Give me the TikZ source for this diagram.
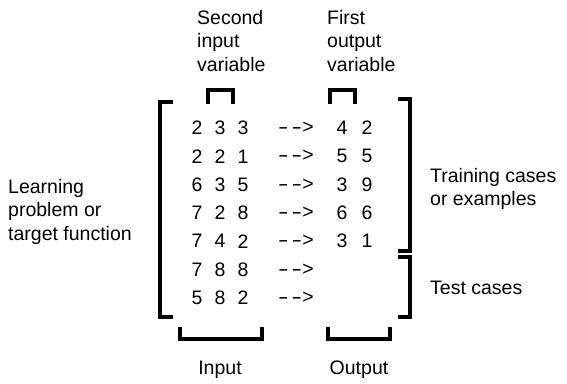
\documentclass[tikz,border=0pt]{standalone}
\usepackage{fontspec}
\setmainfont{Liberation Sans}
\usetikzlibrary{positioning}
\newcommand{\dasharrow}{\scalebox{1.6}[1]{-}\kern3pt\scalebox{1.6}[1]{-}\kern0.5pt>}

\begin{document}
\begin{tikzpicture}[x=1pt,y=-1pt,
  num/.style={inner sep=0pt,font=\fontsize{19.5}{23}\selectfont},
  lbl/.style={inner sep=0pt,align=left,font=\fontsize{19.5}{23.5}\selectfont},
  brk/.style={line width=4pt,line join=miter}]
  \useasboundingbox (0,0) rectangle (567,383);

  % input rows and arrows
  \foreach \a/\b/\c [count=\r] in {2/3/3,2/2/1,6/3/5,7/2/8,7/4/2,7/8/8,5/8/2}{
    \node (a\r) [num] at (197,{128+28.3*(\r-1)}) {\a};
    \node (b\r) [num] at (220,{128+28.3*(\r-1)}) {\b};
    \node (c\r) [num] at (243,{128+28.3*(\r-1)}) {\c};
    \node (arr\r) [num] at (296,{128+28.3*(\r-1)}) {\dasharrow};
  }

  % output rows (training cases only)
  \foreach \d/\e [count=\r] in {4/2,5/5,3/9,6/6,3/1}{
    \node (d\r) [num] at (342,{128+28.3*(\r-1)}) {\d};
    \node (e\r) [num] at (367,{128+28.3*(\r-1)}) {\e};
  }

  % labels (anchored at the baseline of their last line)
  \node (second) [lbl,anchor=base west] at (197,71) {Second\\input\\variable};
  \node (first) [lbl,anchor=base west] at (327,71) {First\\output\\variable};
  \node (learn) [lbl,anchor=base west] at (8,240) {Learning\\problem or\\target function};
  \node (train) [lbl,anchor=base west] at (430,205.5) {Training cases\\or examples};
  \node (test) [lbl,anchor=base west] at (430,294) {Test cases};
  \node (input) [lbl,anchor=base] at (220,374) {Input};
  \node (output) [lbl,anchor=base] at (359,374) {Output};

  % brackets
  \draw[brk] (173,102) -- (160,102) -- (160,317) -- (173,317);
  \draw[brk] (398,99) -- (410,99) -- (410,251) -- (398,251);
  \draw[brk] (398,257) -- (410,257) -- (410,317) -- (398,317);
  \draw[brk] (208,104) -- (208,90) -- (233,90) -- (233,104);
  \draw[brk] (330,104) -- (330,90) -- (355,90) -- (355,104);
  \draw[brk] (180,327) -- (180,339) -- (262,339) -- (262,327);
  \draw[brk] (328,327) -- (328,339) -- (390,339) -- (390,327);
\end{tikzpicture}
\end{document}
